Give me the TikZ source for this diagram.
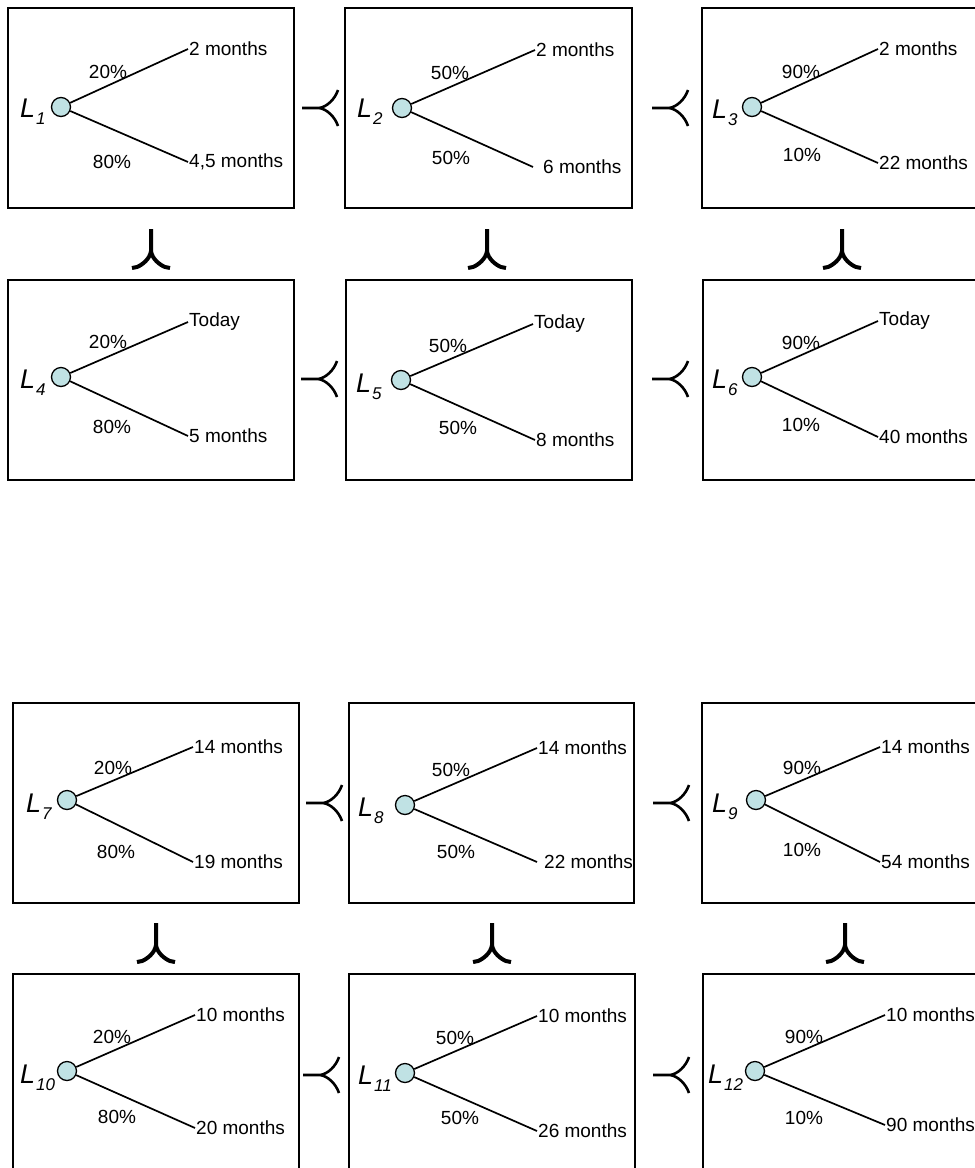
\documentclass[tikz,border=0pt]{standalone}
\usepackage{fontspec}
\setmainfont{Liberation Sans}
\definecolor{chancefill}{RGB}{192,226,228}
% lottery name: italic L with an italic, lowered index
\newcommand\lotlabel[1]{\fontsize{27}{27}\selectfont\itshape L\kern1pt\raisebox{-7pt}{\fontsize{17}{17}\selectfont\itshape #1}}
\tikzset{
  lotbox/.style={draw, line width=1.8pt, minimum width=286pt, minimum height=200pt, inner sep=0pt},
  chance/.style={circle, draw, line width=1.3pt, fill=chancefill, minimum size=19pt, inner sep=0pt},
  branch/.style={line width=1.7pt},
  outcome/.style={font=\fontsize{19}{19}\selectfont, inner sep=1pt, anchor=west},
  prob/.style={font=\fontsize{19}{19}\selectfont, inner sep=0pt},
  lotname/.style={anchor=base west, inner sep=0pt},
  % preference sign, pointing left (tip at the origin)
  prefh/.pic={\draw[line width=2.6pt] (-17,0) -- (0,0) .. controls (8,-1) and (16,-9) .. (19,-18)
                (0,0) .. controls (8,1) and (16,9) .. (19,18);},
  % preference sign, pointing up (tip at the origin)
  prefv/.pic={\draw[line width=4pt] (0,-22) -- (0,0) .. controls (-1,8) and (-9,14) .. (-14,16) -- (-19,17)
                (0,0) .. controls (1,8) and (9,14) .. (14,16) -- (19,17);}
}
\begin{document}
\begin{tikzpicture}[x=1pt,y=-1pt]
\path[use as bounding box] (0,0) rectangle (975,1168);
\clip (0,0) rectangle (975,1168);

% ---------------- row 1 ----------------
\node[lotbox] (b1) at (151,108) {};
\node[chance] (c1) at (61,107) {};
\node[lotname] (n1) at (20,117) {\lotlabel{1}};
\node[outcome] (u1) at (188,49) {2 months};
\node[outcome] (d1) at (188,162) {4,5 months};
\node[prob] (p1) at (108,72) {20\%};
\node[prob] (q1) at (112,162) {80\%};
\draw[branch] (c1) -- (u1.west) (c1) -- (d1.west);

\node[lotbox, minimum width=287pt] (b2) at (488.5,108) {};
\node[chance] (c2) at (402,108) {};
\node[lotname] (n2) at (357,117) {\lotlabel{2}};
\node[outcome] (u2) at (535,50) {2 months};
\node[outcome] (d2) at (542,167) {6 months};
\node[prob] (p2) at (450,73) {50\%};
\node[prob] (q2) at (451,158) {50\%};
\draw[branch] (c2) -- (u2.west) (c2) -- ([xshift=-9pt]d2.west);

\node[lotbox] (b3) at (845,108) {};
\node[chance] (c3) at (752,107) {};
\node[lotname] (n3) at (712,118) {\lotlabel{3}};
\node[outcome] (u3) at (878,49) {2 months};
\node[outcome] (d3) at (878,163) {22 months};
\node[prob] (p3) at (801,72) {90\%};
\node[prob] (q3) at (802,155) {10\%};
\draw[branch] (c3) -- (u3.west) (c3) -- (d3.west);

% ---------------- row 2 ----------------
\node[lotbox] (b4) at (151,380) {};
\node[chance] (c4) at (61,377) {};
\node[lotname] (n4) at (20,388) {\lotlabel{4}};
\node[outcome] (u4) at (188,322) {Today};
\node[outcome] (d4) at (188,436) {5 months};
\node[prob] (p4) at (108,342) {20\%};
\node[prob] (q4) at (112,427) {80\%};
\draw[branch] (c4) -- (u4.west) (c4) -- (d4.west);

\node[lotbox] (b5) at (489,380) {};
\node[chance] (c5) at (401,380) {};
\node[lotname] (n5) at (356,392) {\lotlabel{5}};
\node[outcome] (u5) at (533,324) {Today};
\node[outcome] (d5) at (535,440) {8 months};
\node[prob] (p5) at (448,346) {50\%};
\node[prob] (q5) at (458,428) {50\%};
\draw[branch] (c5) -- (u5.west) (c5) -- (d5.west);

\node[lotbox] (b6) at (846,380) {};
\node[chance] (c6) at (752,377) {};
\node[lotname] (n6) at (712,388) {\lotlabel{6}};
\node[outcome] (u6) at (878,321) {Today};
\node[outcome] (d6) at (878,437) {40 months};
\node[prob] (p6) at (801,343) {90\%};
\node[prob] (q6) at (801,425) {10\%};
\draw[branch] (c6) -- (u6.west) (c6) -- (d6.west);

% ---------------- row 3 ----------------
\node[lotbox] (b7) at (156,803) {};
\node[chance] (c7) at (67,800) {};
\node[lotname] (n7) at (26,812) {\lotlabel{7}};
\node[outcome] (u7) at (193,747) {14 months};
\node[outcome] (d7) at (193,862) {19 months};
\node[prob] (p7) at (113,768) {20\%};
\node[prob] (q7) at (116,852) {80\%};
\draw[branch] (c7) -- (u7.west) (c7) -- (d7.west);

\node[lotbox, minimum width=285pt] (b8) at (491.5,803) {};
\node[chance] (c8) at (405,805) {};
\node[lotname] (n8) at (358,816) {\lotlabel{8}};
\node[outcome] (u8) at (537,748) {14 months};
\node[outcome] (d8) at (543,862) {22 months};
\node[prob] (p8) at (451,770) {50\%};
\node[prob] (q8) at (456,852) {50\%};
\draw[branch] (c8) -- (u8.west) (c8) -- ([xshift=-6pt]d8.west);

\node[lotbox] (b9) at (845,803) {};
\node[chance] (c9) at (756,800) {};
\node[lotname] (n9) at (712,812) {\lotlabel{9}};
\node[outcome] (u9) at (880,747) {14 months};
\node[outcome] (d9) at (880,862) {54 months};
\node[prob] (p9) at (802,768) {90\%};
\node[prob] (q9) at (802,850) {10\%};
\draw[branch] (c9) -- (u9.west) (c9) -- (d9.west);

% ---------------- row 4 ----------------
\node[lotbox] (b10) at (156,1074) {};
\node[chance] (c10) at (67,1071) {};
\node[lotname] (n10) at (20,1083) {\lotlabel{10}};
\node[outcome] (u10) at (195,1015) {10 months};
\node[outcome] (d10) at (195,1128) {20 months};
\node[prob] (p10) at (112,1037) {20\%};
\node[prob] (q10) at (117,1117) {80\%};
\draw[branch] (c10) -- (u10.west) (c10) -- (d10.west);

\node[lotbox] (b11) at (492,1074) {};
\node[chance] (c11) at (405,1073) {};
\node[lotname] (n11) at (358,1084) {\lotlabel{11}};
\node[outcome] (u11) at (537,1016) {10 months};
\node[outcome] (d11) at (537,1131) {26 months};
\node[prob] (p11) at (455,1038) {50\%};
\node[prob] (q11) at (460,1118) {50\%};
\draw[branch] (c11) -- (u11.west) (c11) -- (d11.west);

\node[lotbox] (b12) at (846,1074) {};
\node[chance] (c12) at (755,1071) {};
\node[lotname] (n12) at (708,1083) {\lotlabel{12}};
\node[outcome] (u12) at (885,1015) {10 months};
\node[outcome] (d12) at (885,1125) {90 months};
\node[prob] (p12) at (804,1037) {90\%};
\node[prob] (q12) at (804,1118) {10\%};
\draw[branch] (c12) -- (u12.west) (c12) -- (d12.west);

% ---------------- preference signs ----------------
\pic at (319,108) {prefh};
\pic at (669,108) {prefh};
\pic at (318,379) {prefh};
\pic at (669,379) {prefh};
\pic at (323,803) {prefh};
\pic at (670,803) {prefh};
\pic at (320,1075) {prefh};
\pic at (670,1075) {prefh};

\pic at (151,251) {prefv};
\pic at (487,251) {prefv};
\pic at (842,251) {prefv};
\pic at (156,945) {prefv};
\pic at (492,945) {prefv};
\pic at (845,945) {prefv};
\end{tikzpicture}
\end{document}
